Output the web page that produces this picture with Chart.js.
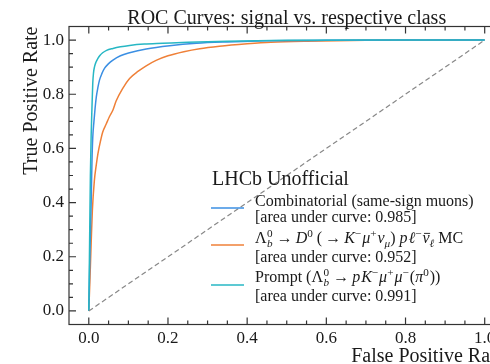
<!DOCTYPE html>
<html>
<head>
<meta charset="utf-8">
<script src="https://cdn.jsdelivr.net/npm/chart.js"></script>
<style>
  html, body { margin: 0; padding: 0; background: #fff; overflow: hidden; }
  #wrap { width: 490px; height: 364px; overflow: hidden; }
</style>
</head>
<body>
<div id="wrap"><canvas id="roc" width="525" height="364"></canvas></div>
<script>
const SERIF = "'Liberation Serif', 'DejaVu Serif', serif";

// ROC points: false positive rate / true positive rate
const combFpr = [0, 0.003, 0.006, 0.008, 0.010, 0.013, 0.016, 0.019, 0.023, 0.027, 0.033, 0.040, 0.050, 0.061, 0.080, 0.103, 0.145, 0.204, 0.272, 0.35, 0.45, 0.6, 0.8, 1.0];
const combTpr = [0, 0.22, 0.40, 0.55, 0.64, 0.70, 0.75, 0.79, 0.825, 0.852, 0.876, 0.896, 0.913, 0.926, 0.942, 0.953, 0.967, 0.979, 0.988, 0.993, 0.997, 0.999, 1.0, 1.0];

const mcFpr = [0, 0.003, 0.006, 0.009, 0.014, 0.019, 0.023, 0.030, 0.035, 0.044, 0.052, 0.061, 0.069, 0.085, 0.103, 0.125, 0.145, 0.17, 0.2, 0.24, 0.28, 0.33, 0.40, 0.46, 0.55, 0.7, 1.0];
const mcTpr = [0, 0.12, 0.25, 0.37, 0.48, 0.54, 0.58, 0.63, 0.66, 0.69, 0.717, 0.742, 0.775, 0.82, 0.858, 0.885, 0.905, 0.925, 0.942, 0.957, 0.968, 0.977, 0.986, 0.992, 0.996, 0.999, 1.0];

const promptFpr = [0, 0.002, 0.004, 0.006, 0.008, 0.010, 0.012, 0.0144, 0.018, 0.023, 0.028, 0.035, 0.045, 0.061, 0.08, 0.103, 0.14, 0.187, 0.25, 0.35, 0.5, 0.7, 1.0];
const promptTpr = [0, 0.25, 0.50, 0.65, 0.75, 0.84, 0.88, 0.901, 0.918, 0.932, 0.943, 0.953, 0.962, 0.969, 0.975, 0.980, 0.985, 0.988, 0.992, 0.996, 0.999, 1.0, 1.0];

const chanceLine = [0, 1];
const aucValues = [0.985, 0.952, 0.991];
const tickValues = [0.0, 0.2, 0.4, 0.6, 0.8, 1.0];
const colors = ['#3b8fe3', '#ef8038', '#27b7c4'];

// legend labels as little pieces of formatted text
const N = t => ({ t });
const I = t => ({ t, it: true });
const UP = (t, it) => ({ t, it, shift: 'up' });
const DN = (t, it) => ({ t, it, shift: 'down' });
const UPDN = (up, dn) => ({ up, dn });
const BAR = t => ({ t, it: true, bar: true });
const G = px => ({ gap: px });
const ARROW = [G(3), N('→'), G(3)];

const seriesNames = [
  [N('Combinatorial (same-sign muons)')],
  [N('Λ'), UPDN('0', 'b'), ...ARROW, I('D'), UP('0'), N(' ('), ...ARROW, I('K'), UP('−'), G(1), I('μ'), UP('+'), G(1),
   I('ν'), DN('μ', true), N(') '), I('p'), G(1), I('ℓ'), UP('−'), G(1), BAR('ν'), DN('ℓ', true), N(' MC')],
  [N('Prompt ('), N('Λ'), UPDN('0', 'b'), ...ARROW, I('p'), G(1), I('K'), UP('−'), G(1), I('μ'), UP('+'), G(1), I('μ'), UP('−'), G(1),
   N('('), I('π'), UP('0'), G(1), N('))')]
];

function drawRich(ctx, pieces, x, y, size) {
  const small = size * 0.7;
  const font = (s, it) => (it ? 'italic ' : '') + s + 'px ' + SERIF;
  for (const p of pieces) {
    if (p.gap) { x += p.gap; continue; }
    if (p.up !== undefined) {
      ctx.font = font(small, false);
      const w1 = ctx.measureText(p.up).width;
      ctx.fillText(p.up, x + 0.5, y - size * 0.38);
      ctx.font = font(small, true);
      const w2 = ctx.measureText(p.dn).width;
      ctx.fillText(p.dn, x + 0.5, y + size * 0.22);
      x += Math.max(w1, w2) + 1.5;
      continue;
    }
    ctx.font = font(p.shift ? small : size, p.it);
    const dy = p.shift === 'up' ? -size * 0.38 : p.shift === 'down' ? size * 0.22 : 0;
    ctx.fillText(p.t, x, y + dy);
    const w = ctx.measureText(p.t).width;
    if (p.bar) {
      ctx.beginPath();
      ctx.lineWidth = 0.9;
      ctx.strokeStyle = ctx.fillStyle;
      ctx.moveTo(x + 1.5, y - size * 0.6);
      ctx.lineTo(x + w + 0.5, y - size * 0.6);
      ctx.stroke();
    }
    x += w;
  }
}

// frame with inward major/minor ticks on every side
const frameTicks = {
  id: 'frameTicks',
  afterDatasetsDraw(chart) {
    const { ctx, chartArea: a, scales } = chart;
    ctx.save();
    ctx.strokeStyle = '#333';
    ctx.lineWidth = 1.2;
    ctx.strokeRect(a.left, a.top, a.right - a.left, a.bottom - a.top);
    ctx.beginPath();
    for (let k = 0; k <= 20; k++) {
      const v = k * 0.05;
      const len = k % 4 === 0 ? 7 : 4;
      const px = scales.x.getPixelForValue(v);
      const py = scales.y.getPixelForValue(v);
      ctx.moveTo(px, a.bottom); ctx.lineTo(px, a.bottom - len);
      ctx.moveTo(px, a.top); ctx.lineTo(px, a.top + len);
      ctx.moveTo(a.left, py); ctx.lineTo(a.left + len, py);
      ctx.moveTo(a.right, py); ctx.lineTo(a.right - len, py);
    }
    ctx.stroke();
    ctx.restore();
  }
};

// title, axis labels and legend block
const annotations = {
  id: 'annotations',
  afterDraw(chart) {
    const { ctx, chartArea: a } = chart;
    ctx.save();
    ctx.fillStyle = '#1a1a1a';
    ctx.textBaseline = 'alphabetic';

    ctx.font = '20px ' + SERIF;
    ctx.textAlign = 'center';
    ctx.fillText('ROC Curves: signal vs. respective class', (a.left + a.right) / 2, 24);

    ctx.textAlign = 'right';
    ctx.fillText('False Positive Rate', a.right, 362);

    ctx.save();
    ctx.translate(37, a.top);
    ctx.rotate(-Math.PI / 2);
    ctx.fillText('True Positive Rate', 0, 0);
    ctx.restore();

    ctx.textAlign = 'left';
    ctx.fillText('LHCb Unofficial', 212, 185);

    const lineY = [208, 245, 285];
    const textY = [206, 243, 282];
    seriesNames.forEach((pieces, i) => {
      ctx.strokeStyle = colors[i];
      ctx.lineWidth = 1.6;
      ctx.beginPath();
      ctx.moveTo(211, lineY[i]);
      ctx.lineTo(244, lineY[i]);
      ctx.stroke();
      ctx.fillStyle = '#1a1a1a';
      drawRich(ctx, pieces, 255, textY[i], 16);
      ctx.font = '16px ' + SERIF;
      ctx.fillText('[area under curve: ' + aucValues[i].toFixed(3) + ']', 255, textY[i] + 16 + (i === 0 ? 0 : 3));
    });
    ctx.restore();
  }
};

const toPoints = (xs, ys) => xs.map((x, i) => ({ x, y: ys[i] }));

const axisTicks = {
  font: { family: SERIF, size: 17 },
  color: '#1a1a1a',
  maxRotation: 0,
  callback: v => v.toFixed(1)
};

new Chart(document.getElementById('roc'), {
  type: 'scatter',
  data: {
    datasets: [
      { data: toPoints(combFpr, combTpr), borderColor: colors[0], order: 2 },
      { data: toPoints(mcFpr, mcTpr), borderColor: colors[1], order: 3 },
      { data: toPoints(promptFpr, promptTpr), borderColor: colors[2], order: 1 },
      { data: toPoints(chanceLine, chanceLine), borderColor: '#888', borderWidth: 1.2, borderDash: [5, 3], order: 0, cubicInterpolationMode: 'default' }
    ]
  },
  options: {
    responsive: false,
    animation: false,
    showLine: true,
    layout: { padding: { left: 0, top: 26.5, right: 20.5, bottom: 0 } },
    elements: {
      point: { radius: 0 },
      line: { borderWidth: 1.5, cubicInterpolationMode: 'monotone' }
    },
    plugins: { legend: { display: false }, tooltip: { enabled: false }, title: { display: false } },
    scales: {
      x: {
        type: 'linear', min: -0.05, max: 1.05,
        grid: { display: false, drawTicks: false }, border: { display: false },
        ticks: { ...axisTicks, padding: 4 },
        afterBuildTicks: s => { s.ticks = tickValues.map(v => ({ value: v })); },
        afterFit: s => { s.height = 39.5; }
      },
      y: {
        type: 'linear', min: -0.05, max: 1.05,
        grid: { display: false, drawTicks: false }, border: { display: false },
        ticks: { ...axisTicks, padding: 5 },
        afterBuildTicks: s => { s.ticks = tickValues.map(v => ({ value: v })); },
        afterFit: s => { s.width = 69; }
      }
    }
  },
  plugins: [frameTicks, annotations]
});
</script>
</body>
</html>
